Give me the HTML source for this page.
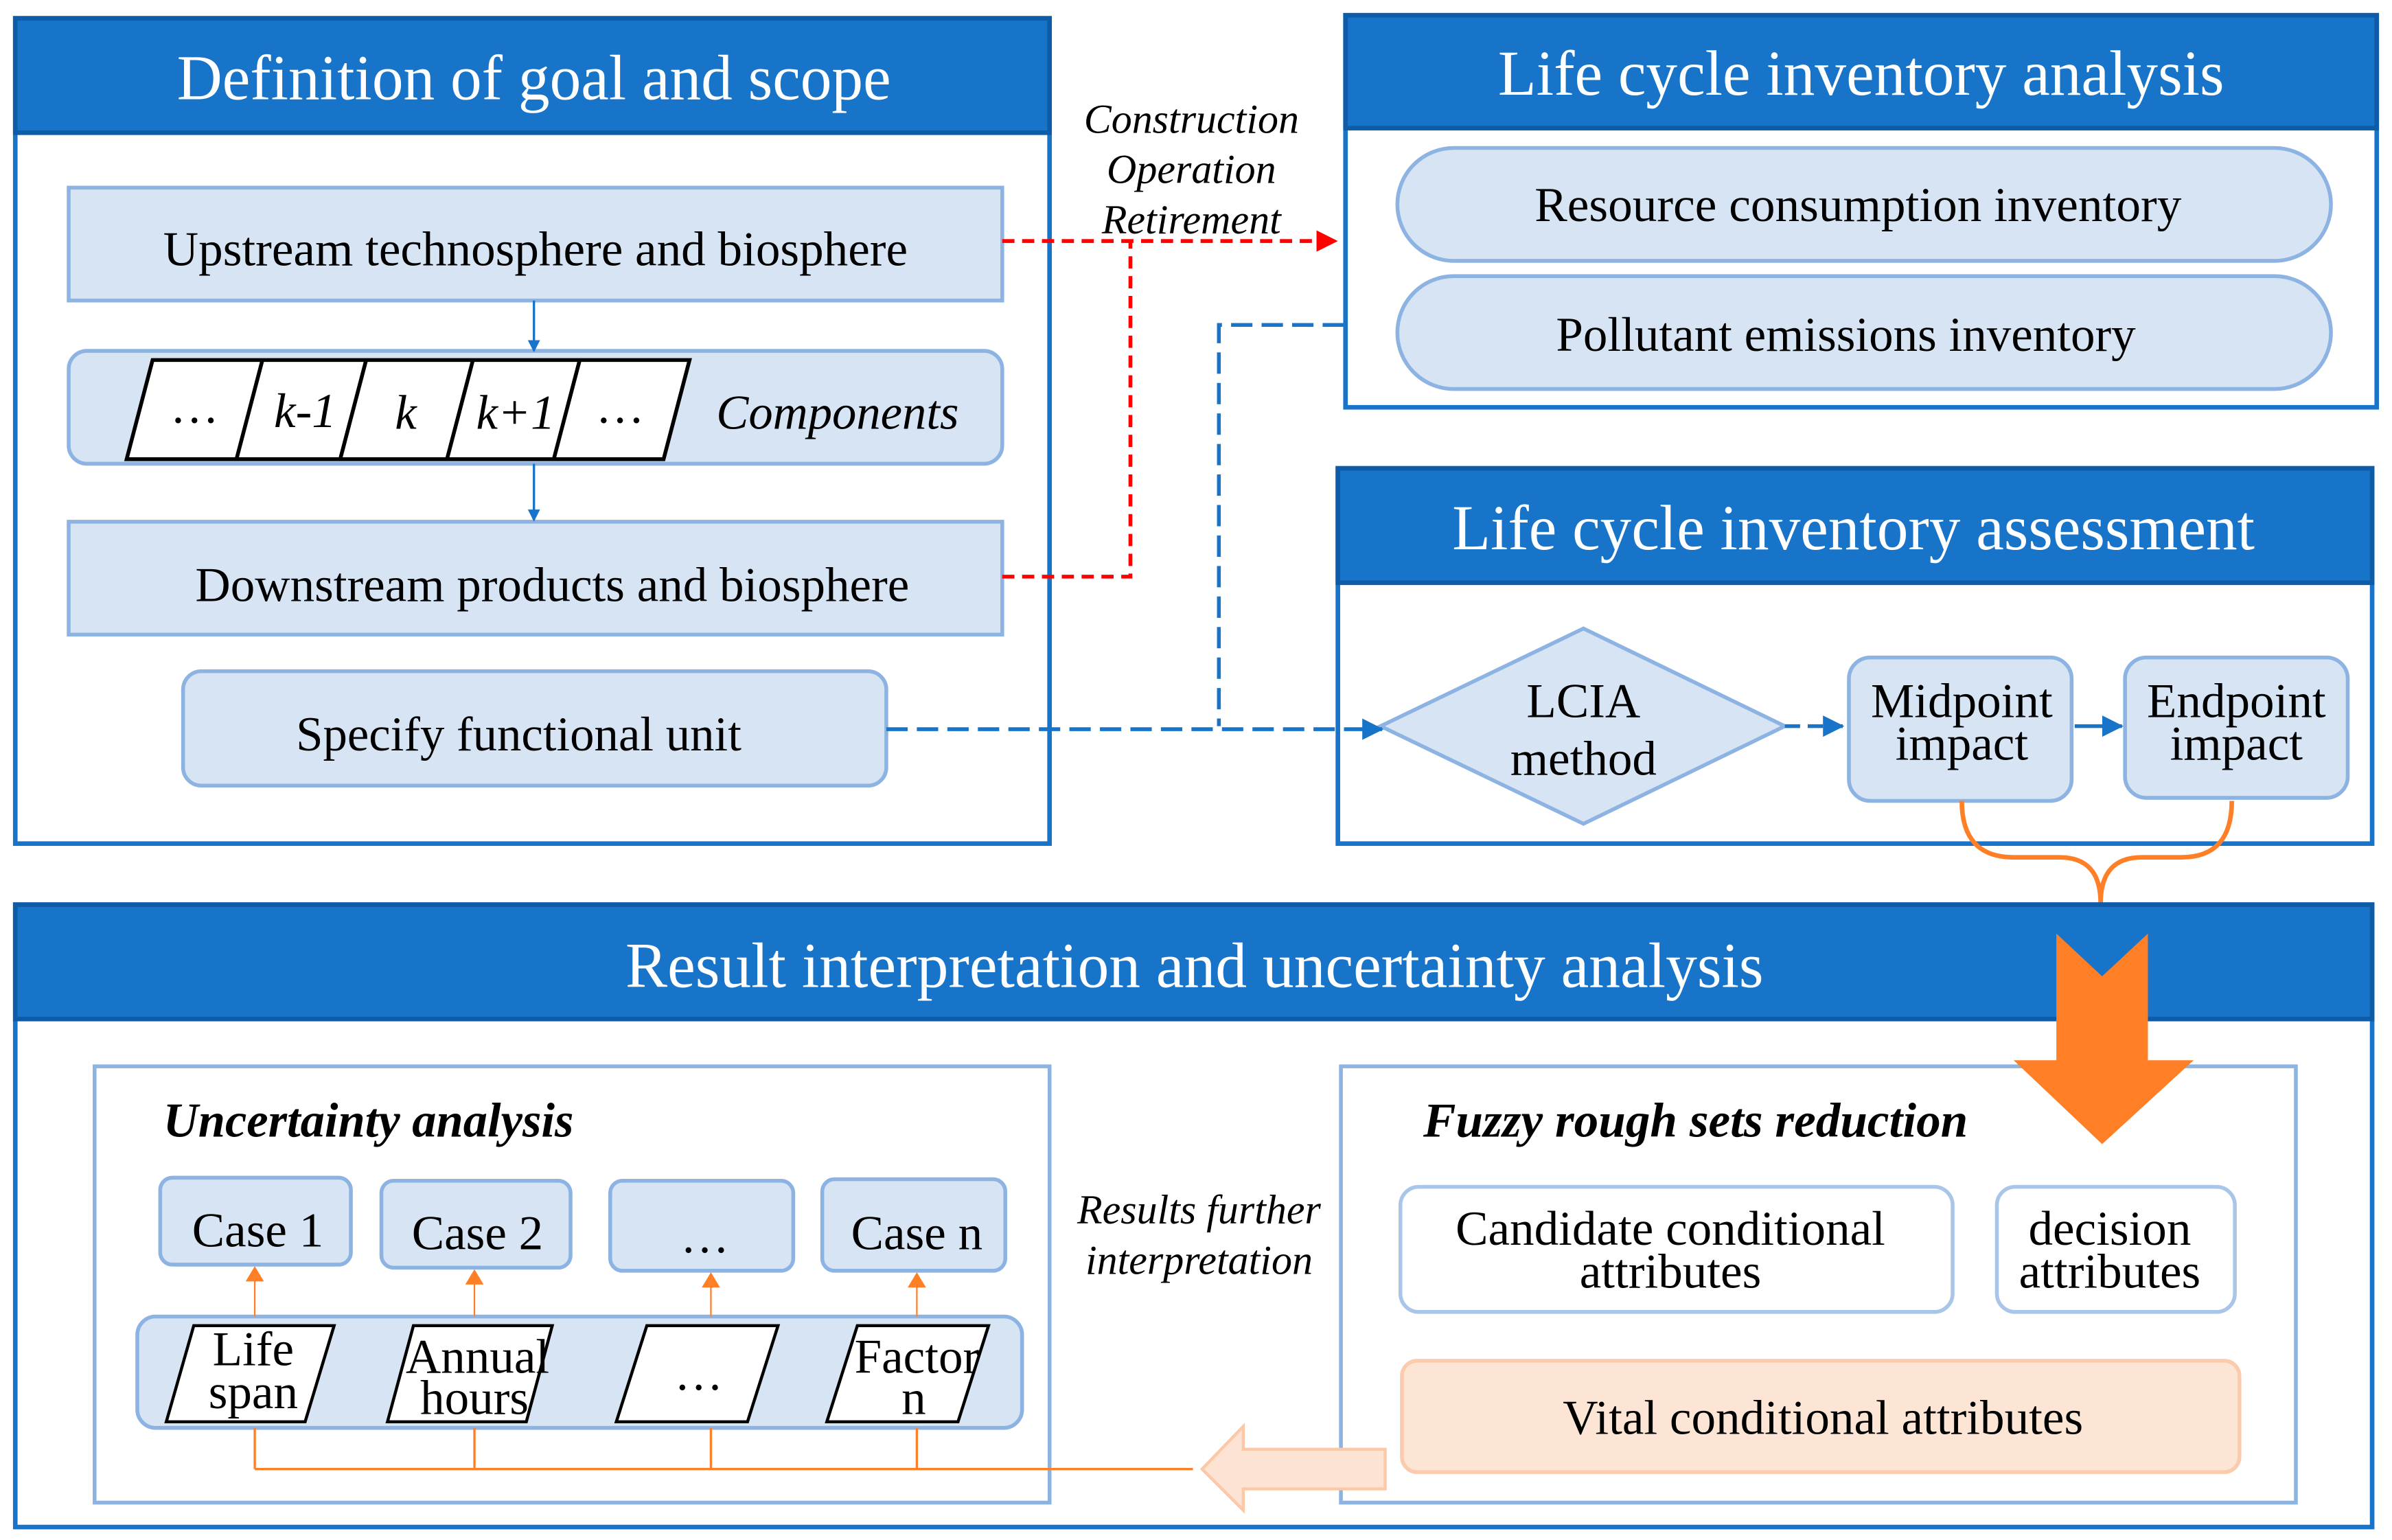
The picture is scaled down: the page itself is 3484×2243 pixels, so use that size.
<!DOCTYPE html>
<html><head><meta charset="utf-8"><style>html,body{margin:0;padding:0;background:#fff}svg{display:block}text{font-family:"Liberation Serif","Times New Roman",serif}</style></head><body>
<svg width="3484" height="2243" viewBox="0 0 1568 1009.5" xmlns="http://www.w3.org/2000/svg">
<defs>
<marker id="ab" markerWidth="8" markerHeight="8" refX="7" refY="4" orient="auto" markerUnits="userSpaceOnUse"><path d="M0,0 L8,4 L0,8z" fill="#1874C9"/></marker>
<marker id="abig" markerWidth="14" markerHeight="14" refX="13" refY="7" orient="auto" markerUnits="userSpaceOnUse"><path d="M0,0 L14,7 L0,14z" fill="#1874C9"/></marker>
<marker id="ar" markerWidth="14" markerHeight="14" refX="13" refY="7" orient="auto" markerUnits="userSpaceOnUse"><path d="M0,0 L14,7 L0,14z" fill="#F00"/></marker>
<marker id="ao" markerWidth="10" markerHeight="12" refX="9" refY="6" orient="auto" markerUnits="userSpaceOnUse"><path d="M0,0 L10,6 L0,12z" fill="#FF7F27"/></marker>
</defs>
<g fill="none">
<rect x="10" y="12" width="678" height="541" fill="#fff" stroke="#1874C9" stroke-width="3"/>
<rect x="10" y="12" width="678" height="75" fill="#1874C9" stroke="#0E5BA8" stroke-width="3"/>
<rect x="45" y="123" width="612" height="74" fill="#D6E4F4" stroke="#8DB3E2" stroke-width="2.5"/>
<rect x="45" y="230" width="612" height="74" rx="12" fill="#D6E4F4" stroke="#8DB3E2" stroke-width="2.5"/>
<path d="M100,236 H452 L435,301 H83 Z M172,236 L155,301 M240,236 L223,301 M310,236 L293,301 M380,236 L363,301" fill="#fff" stroke="#000" stroke-width="2.5"/>
<rect x="45" y="342" width="612" height="74" fill="#D6E4F4" stroke="#8DB3E2" stroke-width="2.5"/>
<rect x="120" y="440" width="461" height="75" rx="12" fill="#D6E4F4" stroke="#8DB3E2" stroke-width="2.5"/>
<line x1="350" y1="197" x2="350" y2="230" stroke="#1874C9" stroke-width="1.5" marker-end="url(#ab)"/>
<line x1="350" y1="304" x2="350" y2="341" stroke="#1874C9" stroke-width="1.5" marker-end="url(#ab)"/>
<path d="M657,158 H876" stroke="#F00" stroke-width="2.5" stroke-dasharray="8,5" marker-end="url(#ar)"/>
<path d="M657,378 H741 V158" stroke="#F00" stroke-width="2.5" stroke-dasharray="8,5"/>
<path d="M881,213 H799 V476" stroke="#1874C9" stroke-width="2.5" stroke-dasharray="14,6"/>
<rect x="882" y="10" width="676" height="257" fill="#fff" stroke="#1874C9" stroke-width="3"/>
<rect x="882" y="10" width="676" height="74" fill="#1874C9" stroke="#0E5BA8" stroke-width="3"/>
<rect x="916" y="97" width="612" height="74" rx="37" fill="#D6E4F4" stroke="#8DB3E2" stroke-width="2.5"/>
<rect x="916" y="181" width="612" height="74" rx="37" fill="#D6E4F4" stroke="#8DB3E2" stroke-width="2.5"/>
<rect x="877" y="307" width="678" height="246" fill="#fff" stroke="#1874C9" stroke-width="3"/>
<rect x="877" y="307" width="678" height="75" fill="#1874C9" stroke="#0E5BA8" stroke-width="3"/>
<path d="M905,476 L1038,412 L1170,476 L1038,540 Z" fill="#D6E4F4" stroke="#8DB3E2" stroke-width="2.5"/>
<path d="M581,478 H906" stroke="#1874C9" stroke-width="2.5" stroke-dasharray="14,6" marker-end="url(#abig)"/>
<rect x="1212" y="431" width="146" height="94" rx="14" fill="#D6E4F4" stroke="#8DB3E2" stroke-width="2.5"/>
<rect x="1393" y="431" width="146" height="92" rx="14" fill="#D6E4F4" stroke="#8DB3E2" stroke-width="2.5"/>
<path d="M1170,476 H1208" stroke="#1874C9" stroke-width="2.5" stroke-dasharray="10,5" marker-end="url(#abig)"/>
<path d="M1360,476 H1391" stroke="#1874C9" stroke-width="2.5" marker-end="url(#abig)"/>
<path d="M1286,525 Q1286,562 1320,562 H1350 Q1377,562 1377,592 Q1377,562 1404,562 H1430 Q1463,562 1463,525" stroke="#FF7F27" stroke-width="3"/>
<rect x="10" y="593" width="1545" height="408" fill="#fff" stroke="#1874C9" stroke-width="3"/>
<rect x="10" y="593" width="1545" height="75" fill="#1874C9" stroke="#0E5BA8" stroke-width="3"/>
<rect x="62" y="699" width="626" height="286" fill="#fff" stroke="#8DB3E2" stroke-width="2.5"/>
<rect x="879" y="699" width="626" height="286" fill="#fff" stroke="#8DB3E2" stroke-width="2.5"/>
<path d="M1348,612 L1378,640 L1408,612 V695 H1438 L1378,750 L1320,695 H1348 Z" fill="#FF7F27"/>
<rect x="105" y="772" width="125" height="57" rx="8" fill="#D6E4F4" stroke="#8DB3E2" stroke-width="2.5"/>
<rect x="250" y="774" width="124" height="57" rx="8" fill="#D6E4F4" stroke="#8DB3E2" stroke-width="2.5"/>
<rect x="400" y="774" width="120" height="59" rx="8" fill="#D6E4F4" stroke="#8DB3E2" stroke-width="2.5"/>
<rect x="539" y="773" width="120" height="60" rx="8" fill="#D6E4F4" stroke="#8DB3E2" stroke-width="2.5"/>
<rect x="90" y="863" width="580" height="73" rx="12" fill="#D6E4F4" stroke="#8DB3E2" stroke-width="2.5"/>
<path d="M127,869 H219 L200,932 H109 Z" fill="#fff" stroke="#000" stroke-width="2"/>
<path d="M271,869 H362 L345,932 H254 Z" fill="#fff" stroke="#000" stroke-width="2"/>
<path d="M424,869 H510 L490,932 H404 Z" fill="#fff" stroke="#000" stroke-width="2"/>
<path d="M562,869 H648 L628,932 H542 Z" fill="#fff" stroke="#000" stroke-width="2"/>
<g stroke="#FF7F27" stroke-width="1">
<line x1="167" y1="863" x2="167" y2="831" marker-end="url(#ao)"/>
<line x1="311" y1="863" x2="311" y2="833" marker-end="url(#ao)"/>
<line x1="466" y1="863" x2="466" y2="835" marker-end="url(#ao)"/>
<line x1="601" y1="863" x2="601" y2="835" marker-end="url(#ao)"/>
<path d="M167,936 V963 M311,936 V963 M466,936 V963 M601,936 V963 M167,963 H782" stroke-width="1.5"/>
</g>
<path d="M788,963 L815,935 V950 H908 V976 H815 V990 Z" fill="#FDE3D3" stroke="#FBC9A8" stroke-width="2"/>
<rect x="918" y="778" width="362" height="82" rx="12" fill="#fff" stroke="#A9C6E8" stroke-width="2.5"/>
<rect x="1309" y="778" width="156" height="82" rx="12" fill="#fff" stroke="#A9C6E8" stroke-width="2.5"/>
<rect x="919" y="892" width="549" height="73" rx="10" fill="#FDE5D6" stroke="#FBCBAE" stroke-width="2.5"/>
</g>
<g text-anchor="middle" font-size="32" fill="#000">
<text x="350" y="65" font-size="42" fill="#fff" textLength="468" lengthAdjust="spacingAndGlyphs">Definition of goal and scope</text>
<text x="1220" y="62" font-size="42" fill="#fff" textLength="476" lengthAdjust="spacingAndGlyphs">Life cycle inventory analysis</text>
<text x="1215" y="360" font-size="42" fill="#fff" textLength="526" lengthAdjust="spacingAndGlyphs">Life cycle inventory assessment</text>
<text x="783" y="647" font-size="42" fill="#fff" textLength="746" lengthAdjust="spacingAndGlyphs">Result interpretation and uncertainty analysis</text>
<text x="351" y="174" textLength="488" lengthAdjust="spacingAndGlyphs">Upstream technosphere and biosphere</text>
<text x="362" y="394" textLength="468" lengthAdjust="spacingAndGlyphs">Downstream products and biosphere</text>
<text x="340" y="492" textLength="292" lengthAdjust="spacingAndGlyphs">Specify functional unit</text>
<g font-style="italic">
<text x="128" y="277">…</text><text x="200" y="280">k-1</text><text x="266" y="281">k</text><text x="338" y="281">k+1</text><text x="407" y="277">…</text>
<text x="549" y="281" textLength="159" lengthAdjust="spacingAndGlyphs">Components</text>
<text x="781" y="87" font-size="27">Construction</text>
<text x="781" y="120" font-size="27">Operation</text>
<text x="781" y="153" font-size="27">Retirement</text>
<text x="786" y="802" font-size="27">Results further</text>
<text x="786" y="835" font-size="27">interpretation</text>
</g>
<text x="1218" y="145" textLength="424" lengthAdjust="spacingAndGlyphs">Resource consumption inventory</text>
<text x="1210" y="230" textLength="380" lengthAdjust="spacingAndGlyphs">Pollutant emissions inventory</text>
<text x="1038" y="470">LCIA</text><text x="1038" y="508">method</text>
<text x="1286" y="470">Midpoint</text><text x="1286" y="498">impact</text>
<text x="1466" y="470">Endpoint</text><text x="1466" y="498">impact</text>
<text x="107" y="745" text-anchor="start" font-style="italic" font-weight="bold" textLength="269" lengthAdjust="spacingAndGlyphs">Uncertainty analysis</text>
<text x="933" y="745" text-anchor="start" font-style="italic" font-weight="bold" textLength="357" lengthAdjust="spacingAndGlyphs">Fuzzy rough sets reduction</text>
<text x="169" y="817">Case 1</text><text x="313" y="819">Case 2</text><text x="462" y="821">…</text><text x="601" y="819">Case n</text>
<text x="166" y="895">Life</text><text x="166" y="923">span</text>
<text x="313" y="900">Annual</text><text x="311" y="927">hours</text>
<text x="458" y="911">…</text>
<text x="601" y="900">Factor</text><text x="599" y="927">n</text>
<text x="1095" y="816">Candidate conditional</text><text x="1095" y="844">attributes</text>
<text x="1383" y="816">decision</text><text x="1383" y="844">attributes</text>
<text x="1195" y="940">Vital conditional attributes</text>
</g>
</svg>
</body></html>
